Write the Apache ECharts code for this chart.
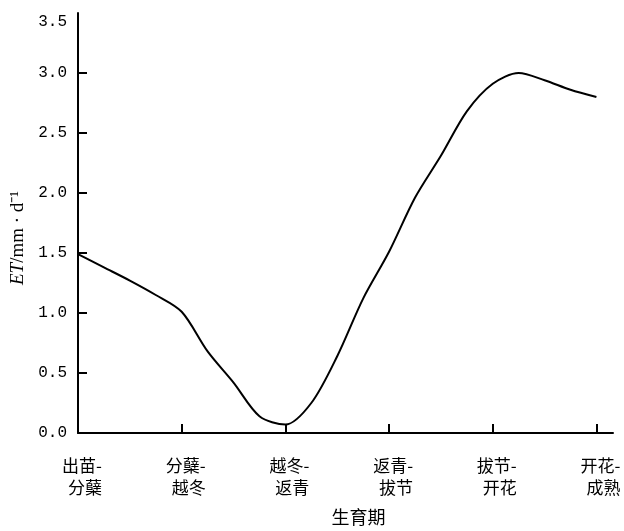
<!DOCTYPE html>
<html lang="zh">
<head>
    <meta charset="UTF-8">
    <title>ET</title>
    <style>
        html, body { margin: 0; padding: 0; background: #fff; }
    </style>
</head>
<body>

<div id="main" style="width: 624px;height:531px;"></div>

<script src="https://cdn.jsdelivr.net/npm/echarts@6/dist/echarts.min.js" charset="utf-8"></script>

<script type="text/javascript">
    // 生育期
    var stages = ['出苗-\n分蘖', '分蘖-\n越冬', '越冬-\n返青', '返青-\n拔节', '拔节-\n开花', '开花-\n成熟'];
    var stagePos = [0, 1, 2, 3, 4, 5];
    // 曲线读数 (x: 生育期位置, y: ET mm/d)
    var etX = [0, 0.25, 0.5, 0.75, 1, 1.25, 1.5, 1.75, 2, 2.25, 2.5, 2.75, 3, 3.25, 3.5, 3.75, 4, 4.25, 4.5, 4.75, 5];
    var etY = [1.49, 1.38, 1.27, 1.15, 1.01, 0.68, 0.42, 0.14, 0.07, 0.25, 0.64, 1.12, 1.51, 1.96, 2.31, 2.68, 2.91, 3.0, 2.94, 2.86, 2.80];
    var yTicks = [0, 0.5, 1, 1.5, 2, 2.5, 3];

    var line = [];
    for (var i = 0; i < etX.length; i++) {
        line.push([etX[i], etY[i]]);
    }

    var cjk = '"Noto Sans CJK SC", sans-serif';
    var myChart = echarts.init(document.getElementById('main'));

    var option = {
        animation: false,
        grid: {
            left: 78,
            right: 11,
            top: 13,
            bottom: 94
        },
        xAxis: {
            type: 'value',
            min: 0,
            max: 5.16,
            name: '生育期',
            nameLocation: 'middle',
            nameGap: 75,
            nameTextStyle: { color: '#000', fontSize: 18, fontFamily: cjk, padding: [0, 0, 0, 26] },
            splitLine: { show: false },
            axisLine: { lineStyle: { color: '#000', width: 2 } },
            axisTick: {
                inside: true,
                length: 9,
                customValues: stagePos,
                lineStyle: { color: '#000', width: 2 }
            },
            axisLabel: {
                customValues: stagePos,
                margin: 22,
                formatter: function (v) {
                    var s = stages[Math.round(v)].split('\n');
                    return '{a|' + s[0] + '}\n{a|' + s[1] + '}';
                },
                rich: {
                    a: { width: 48, align: 'right', fontSize: 17, lineHeight: 22, color: '#000', fontFamily: cjk }
                }
            }
        },
        yAxis: {
            type: 'value',
            min: 0,
            max: 3.5,
            interval: 0.5,
            name: '{i|ET}/mm · d⁻¹',
            nameLocation: 'middle',
            nameGap: 46,
            nameTextStyle: {
                color: '#000',
                fontSize: 19,
                fontFamily: '"Liberation Serif", serif',
                padding: [0, 30, 0, 0],
                rich: {
                    i: { fontStyle: 'italic', fontSize: 19, fontFamily: '"Liberation Serif", serif', color: '#000' }
                }
            },
            splitLine: { show: false },
            axisLine: { show: true, lineStyle: { color: '#000', width: 2 } },
            axisTick: {
                inside: true,
                length: 9,
                customValues: yTicks,
                lineStyle: { color: '#000', width: 2 }
            },
            axisLabel: {
                margin: 11,
                color: '#000',
                fontSize: 16,
                fontFamily: '"Liberation Mono", monospace',
                formatter: function (v) {
                    if (v === 3.5) {
                        return '{top|' + v.toFixed(1) + '}';
                    }
                    return v.toFixed(1);
                },
                rich: {
                    top: { padding: [18, 0, 0, 0], fontSize: 16, fontFamily: '"Liberation Mono", monospace', color: '#000' }
                }
            }
        },
        series: [{
            type: 'line',
            data: line,
            smooth: 0.3,
            showSymbol: false,
            lineStyle: { color: '#000', width: 2 }
        }]
    };

    myChart.setOption(option);
</script>
</body>
</html>
